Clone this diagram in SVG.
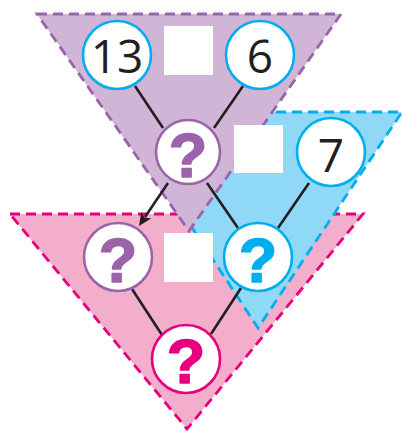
<svg xmlns="http://www.w3.org/2000/svg" width="402" height="431" viewBox="0 0 402 431">
<defs>
<style>
.tri{stroke-width:2.8;stroke-dasharray:10 6;stroke-linejoin:miter}
.c{fill:#fff;stroke-width:2.6}
.num{font-family:"Open Sans","Noto Sans",sans-serif;font-size:46px;fill:#231f20;text-anchor:middle}
.q{font-family:"Liberation Sans",Arial,sans-serif;font-weight:bold;font-size:63px;text-anchor:middle;stroke-width:1.6;stroke-linejoin:round}
.ln{stroke:#231f20;stroke-width:2.6;fill:none}
.box{fill:#fff}
</style>
</defs>
<g id="triangles">
<polygon id="pink-tri" class="tri" points="10,214 363,214 187,429" fill="#f3aecb" stroke="#e6007e"/>
<polygon id="blue-tri" class="tri" points="116,112 402,112 258,328" fill="#8fd8f6" stroke="#00aeef"/>
<polygon id="purple-tri" class="tri" points="37,14 341,14 189,231" fill="#d0b5d7" stroke="#9b63a9"/>
</g>
<g id="boxes">
<rect class="box" x="164" y="26" width="49" height="49"/>
<rect class="box" x="234" y="125" width="49" height="48"/>
<rect class="box" x="164" y="233" width="49" height="49"/>
</g>
<g id="connectors">
<line class="ln" x1="168" y1="183" x2="145" y2="217"/>
<polygon points="139,226 141.2,211.9 144.5,217.5 151.2,218.5" fill="#231f20"/>
<line class="ln" x1="135" y1="86" x2="163" y2="128"/>
<line class="ln" x1="243" y1="86" x2="214" y2="128"/>
<line class="ln" x1="207" y1="183" x2="238" y2="228"/>
<line class="ln" x1="309" y1="183" x2="278" y2="228"/>
<line class="ln" x1="132" y1="289" x2="162" y2="335"/>
<line class="ln" x1="241" y1="288" x2="211" y2="334"/>
</g>
<g id="n13"><circle class="c" cx="117" cy="55" r="34" stroke="#00aeef"/><text class="num" x="117" y="73">13</text></g>
<g id="n6"><circle class="c" cx="260" cy="55" r="34" stroke="#00aeef"/><text class="num" x="260" y="73">6</text></g>
<g id="nq1"><circle class="c" cx="188" cy="152" r="32" stroke="#9b63a9"/><text class="q" x="188" y="177" fill="#9b63a9" stroke="#9b63a9">?</text></g>
<g id="n7"><circle class="c" cx="331" cy="152" r="34" stroke="#00aeef"/><text class="num" x="331" y="172">7</text></g>
<g id="nq2"><circle class="c" cx="118" cy="257" r="34" stroke="#9b63a9"/><text class="q" x="118" y="282" fill="#9b63a9" stroke="#9b63a9">?</text></g>
<g id="nq3"><circle class="c" cx="258" cy="257" r="34" stroke="#00aeef"/><text class="q" x="258" y="282" fill="#00aeef" stroke="#00aeef">?</text></g>
<g id="nq4"><circle class="c" cx="186" cy="359" r="34" stroke="#e6007e"/><text class="q" x="186" y="383" fill="#e6007e" stroke="#e6007e">?</text></g>
</svg>
